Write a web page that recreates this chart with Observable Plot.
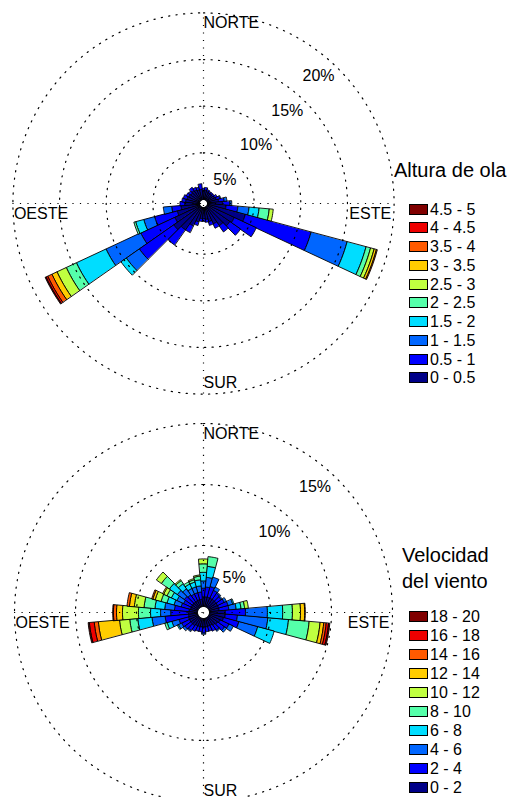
<!DOCTYPE html>
<html>
<head>
<meta charset="utf-8">
<script src="https://cdn.jsdelivr.net/npm/d3@7"></script>
<script src="https://cdn.jsdelivr.net/npm/@observablehq/plot@0.6"></script>
<style>
  body { margin: 0; background: #fff; }
  #page { position: relative; width: 518px; height: 797px; overflow: hidden;
          font-family: "Liberation Sans", Arial, Helvetica, sans-serif; color: #000; }
  .chart { position: absolute; left: 0; }
  .ltitle { position: absolute; font-size: 20px; line-height: 26px; white-space: nowrap; }
  .lbox { position: absolute; left: 409px; width: 17px; height: 9px; border: 1px solid #000; }
  .llab { position: absolute; left: 430px; font-size: 16px; line-height: 19px; white-space: nowrap; }
</style>
</head>
<body>
<div id="page"></div>
<script>
// Direction bins (degrees clockwise from north), 10° wide
const directions = d3.range(0, 360, 10);

// Class labels, lowest class first
const olaBands = ["0 - 0.5", "0.5 - 1", "1 - 1.5", "1.5 - 2", "2 - 2.5",
                  "2.5 - 3", "3 - 3.5", "3.5 - 4", "4 - 4.5", "4.5 - 5"];
const vientoBands = ["0 - 2", "2 - 4", "4 - 6", "6 - 8", "8 - 10",
                     "10 - 12", "12 - 14", "14 - 16", "16 - 18", "18 - 20"];
const bandColors = ["#000088", "#0000ff", "#0066ff", "#00ddff", "#55ffaa",
                    "#c0ff40", "#ffcc00", "#ff5a00", "#ee0000", "#800000"];

// Wave height: frequency (%) per direction, one value per height class
const olaFreq = [
  [0.9, 0.3], [1.0, 0.3], [0.9, 0.2], [0.8, 0.2], [0.8, 0.2], [0.8, 0.2],
  [0.9, 0.3], [1.0, 0.4, 0.1], [1.2, 0.6, 0.3], [1.6, 0.8, 0.2],
  [2.0, 1.27, 1.2, 1.08, 1.09, 0.43],
  [4.2, 7.3, 4.0, 2.1, 0.5, 0.4, 0.25, 0.1],
  [3.2, 2.6], [3.0, 1.4], [2.5, 0.8], [2.0, 0.5], [1.6, 0.4], [1.3, 0.3],
  [1.2, 0.3], [1.2, 0.3], [1.6, 0.4], [2.2, 0.8], [3.0, 2.0],
  [3.5, 4.5, 1.7, 0.7],
  [3.0, 4.0, 4.1, 3.5, 1.2, 1.1, 0.6, 0.5, 0.2, 0.1],
  [2.5, 2.5, 1.2, 0.9, 0.2],
  [2.0, 1.0, 0.9], [1.6, 0.5], [1.5, 0.4], [1.4, 0.4], [1.3, 0.3], [1.2, 0.3],
  [1.3, 0.4], [1.2, 0.3], [1.1, 0.3], [1.1, 0.6]
];

// Wind speed: frequency (%) per direction, one value per speed class
const vientoFreq = [
  [0.8, 0.7, 0.6, 0.7, 0.7, 0.4], [0.8, 0.8, 0.8, 0.9, 0.8], [0.8, 0.9, 0.8],
  [0.8, 0.7, 0.3], [0.8, 0.6, 0.1], [0.8, 0.5, 0.1], [0.8, 0.6, 0.2],
  [0.8, 0.8, 0.4, 0.1], [0.8, 0.8, 0.6, 0.4, 0.3, 0.3],
  [1.3, 1.65, 1.8, 1.25, 0.8, 0.66, 0.34, 0.05],
  [1.3, 1.0, 2.5, 1.7, 1.7, 0.9, 0.3, 0.2, 0.2, 0.1],
  [1.2, 1.3, 1.6, 1.4],
  [1.0, 0.8, 0.4], [0.9, 0.7, 0.2], [0.8, 0.5, 0.1], [0.7, 0.5], [0.7, 0.4],
  [0.7, 0.4], [0.7, 0.5, 0.1], [0.7, 0.4], [0.7, 0.4], [0.7, 0.5],
  [0.8, 0.5, 0.1], [0.8, 0.6, 0.2], [0.8, 0.7, 0.3, 0.1],
  [0.8, 0.8, 0.6, 0.4, 0.2],
  [0.75, 1.92, 1.08, 1.17, 0.66, 0.84, 1.74, 0.34, 0.4, 0.1],
  [0.73, 1.47, 0.83, 0.82, 0.99, 1.31, 0.49, 0.25, 0.06],
  [0.7, 1.2, 0.8, 0.8, 0.9, 0.8, 0.4, 0.2],
  [0.6, 0.8, 0.6, 0.6, 0.5, 0.5, 0.2, 0.1],
  [0.6, 0.7, 0.6, 0.5, 0.4, 0.3, 0.1],
  [0.6, 0.8, 0.7, 0.8, 0.8, 0.5],
  [0.6, 0.7, 0.6, 0.5, 0.3, 0.1], [0.6, 0.6, 0.5, 0.4, 0.2],
  [0.6, 0.6, 0.5, 0.4, 0.2, 0.1], [0.6, 0.6, 0.5, 0.5, 0.3, 0.1]
];

// Grid rings (%) and compass labels
const olaRings = [5, 10, 15, 20];
const vientoRings = [5, 10, 15];
const cardinals = { n: "NORTE", e: "ESTE", s: "SUR", w: "OESTE" };

const FONT = '"Liberation Sans", Arial, Helvetica, sans-serif';
const rad = (deg) => deg * Math.PI / 180;

// Annular sector outlines for every (direction, class) piece, stacked outward
function wedgeRows(freq, bands, hole) {
  const rows = [];
  freq.forEach((vals, i) => {
    const d = directions[i];
    let acc = 0;
    vals.forEach((v, j) => {
      if (!(v > 0)) return;
      const a = hole + acc, b = hole + acc + v;
      acc += v;
      const id = d + "-" + j;
      const angs = d3.range(7).map((s) => rad(d - 5 + s * 10 / 6));
      for (const t of angs) rows.push({ id, band: bands[j], x: a * Math.sin(t), y: a * Math.cos(t) });
      for (const t of angs.slice().reverse()) rows.push({ id, band: bands[j], x: b * Math.sin(t), y: b * Math.cos(t) });
    });
  });
  return rows;
}

function ringRows(rings, hole) {
  const rows = [];
  for (const v of rings) {
    for (const deg of d3.range(0, 360, 1.5)) {
      const t = rad(deg);
      rows.push({ ring: v, x: (hole + v) * Math.sin(t), y: (hole + v) * Math.cos(t) });
    }
  }
  return rows;
}

function rose({ freq, bands, rings, height, cx, cy, k, holePx, labelInset, labelAngle }) {
  const W = 518;
  const hole = holePx / k;
  const Rm = hole + d3.max(rings);
  const dots = { stroke: "#000", strokeWidth: 1.2, strokeDasharray: "1.2 6.3" };
  return Plot.plot({
    width: W, height, margin: 0,
    x: { domain: [-cx / k, (W - cx) / k], axis: null },
    y: { domain: [-(height - cy) / k, cy / k], axis: null },
    color: { domain: bands, range: bandColors },
    style: { fontFamily: FONT, background: "transparent", overflow: "visible" },
    marks: [
      Plot.line(wedgeRows(freq, bands, hole), {
        x: "x", y: "y", z: "id", fill: "band", stroke: "#000",
        strokeWidth: 0.9, curve: "linear-closed"
      }),
      Plot.line(ringRows(rings, hole), { x: "x", y: "y", z: "ring", curve: "linear-closed", ...dots }),
      Plot.ruleY([0], { x1: -Rm, x2: Rm, ...dots }),
      Plot.ruleX([0], { y1: -Rm, y2: Rm, ...dots }),
      Plot.text(rings, {
        x: (v) => (hole + v - labelInset) * Math.sin(rad(labelAngle)),
        y: (v) => (hole + v - labelInset) * Math.cos(rad(labelAngle)),
        text: (v) => v + "%", fontSize: 16, fill: "#000"
      }),
      Plot.text([cardinals.n], { x: 0, y: Rm, text: (d) => d, textAnchor: "start", lineAnchor: "top", dy: 4, fontSize: 16, fill: "#000" }),
      Plot.text([cardinals.s], { x: 0, y: -Rm, text: (d) => d, textAnchor: "start", lineAnchor: "bottom", dy: -6, fontSize: 16, fill: "#000" }),
      Plot.text([cardinals.e], { x: Rm, y: 0, text: (d) => d, textAnchor: "end", lineAnchor: "top", dx: -3, dy: 4, fontSize: 16, fill: "#000" }),
      Plot.text([cardinals.w], { x: -Rm, y: 0, text: (d) => d, textAnchor: "start", lineAnchor: "top", dx: 1, dy: 4, fontSize: 16, fill: "#000" })
    ]
  });
}

function legend(page, titleLines, titleLeft, titleTop, bands, firstRow, step) {
  titleLines.forEach((line, i) => {
    const t = document.createElement("div");
    t.className = "ltitle";
    t.style.left = titleLeft + "px";
    t.style.top = (titleTop + i * 26) + "px";
    t.textContent = line;
    page.appendChild(t);
  });
  bands.slice().reverse().forEach((b, i) => {
    const cyRow = firstRow + i * step;
    const box = document.createElement("div");
    box.className = "lbox";
    box.style.top = (cyRow - 5.5) + "px";
    box.style.background = bandColors[bands.indexOf(b)];
    page.appendChild(box);
    const lab = document.createElement("div");
    lab.className = "llab";
    lab.style.top = (cyRow - 9.5) + "px";
    lab.textContent = b;
    page.appendChild(lab);
  });
}

const page = document.getElementById("page");

const olaChart = rose({ freq: olaFreq, bands: olaBands, rings: olaRings, height: 410,
  cx: 203, cy: 203, k: 9.33, holePx: 4, labelInset: 2.0, labelAngle: 42 });
olaChart.classList.add("chart"); olaChart.style.top = "0px";
page.appendChild(olaChart);

const vientoChart = rose({ freq: vientoFreq, bands: vientoBands, rings: vientoRings, height: 387,
  cx: 203, cy: 202, k: 12.2, holePx: 6, labelInset: 1.7, labelAngle: 41.5 });
vientoChart.classList.add("chart"); vientoChart.style.top = "410px";
page.appendChild(vientoChart);

legend(page, ["Altura de ola"], 394, 157, olaBands, 209, 18.75);
legend(page, ["Velocidad", "del viento"], 402, 542, vientoBands, 616, 19);
</script>
</body>
</html>
